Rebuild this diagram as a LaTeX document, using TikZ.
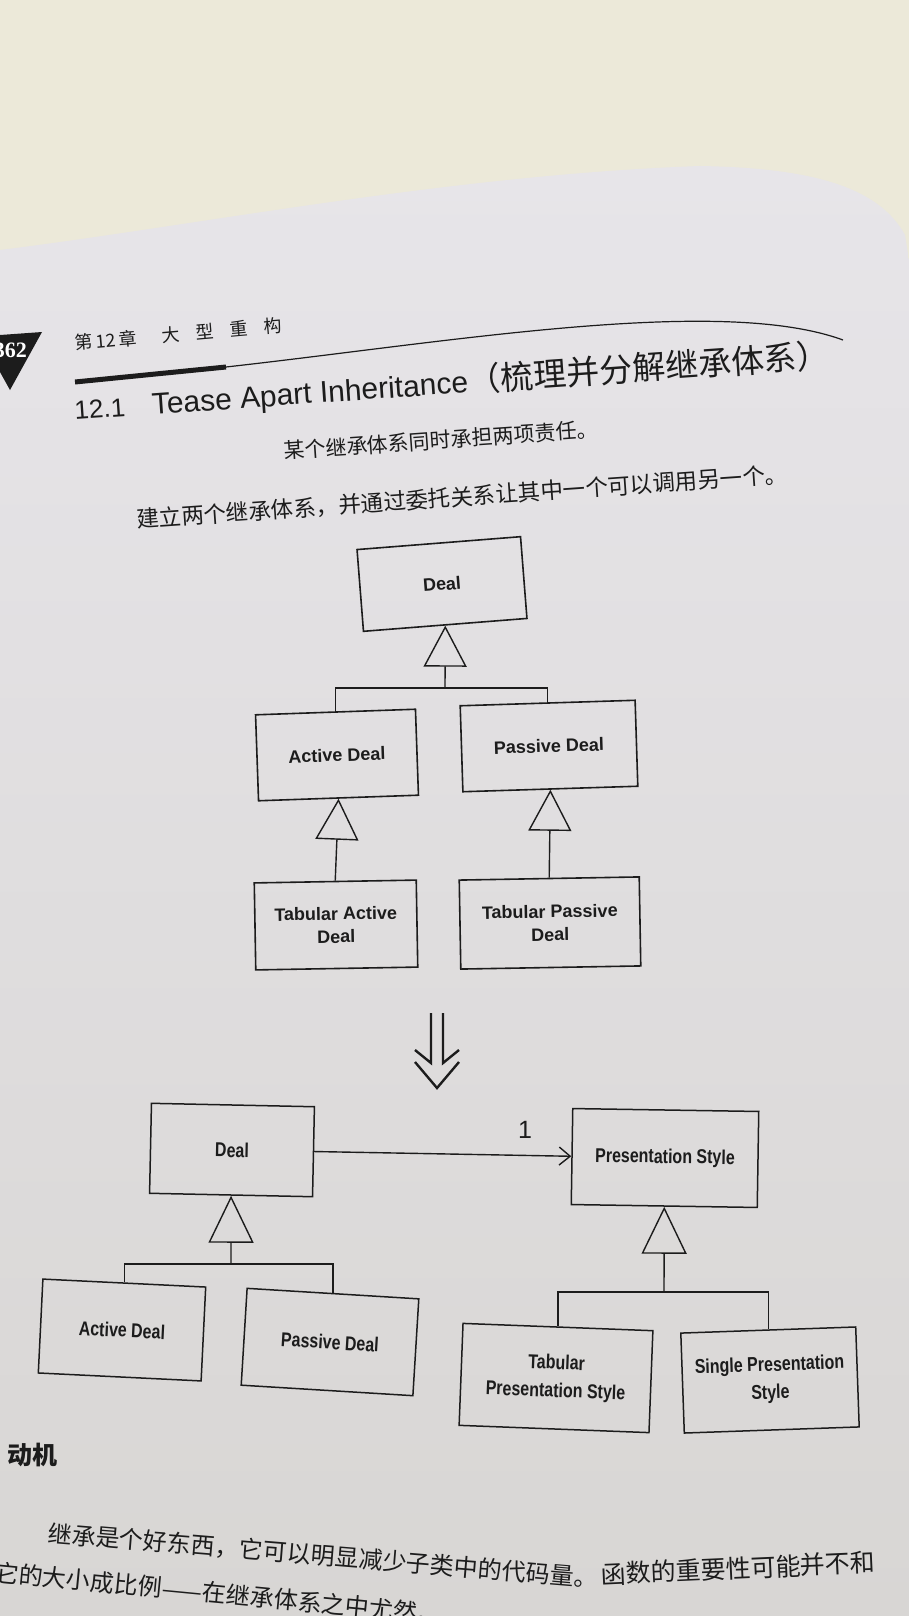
\documentclass[tikz,border=0pt]{standalone}
\usepackage{fontspec}
\setmainfont{Liberation Sans}
\newfontfamily\cjk{Noto Sans CJK SC}
\newfontfamily\narrowsans[FakeStretch=0.8]{Liberation Sans}
\newfontfamily\tabserif{Liberation Serif}
\usetikzlibrary{positioning,arrows.meta}
\definecolor{desk}{HTML}{ECE9D9}
\definecolor{pagetop}{HTML}{E7E5E9}
\definecolor{pagebot}{HTML}{D8D6D4}
\definecolor{ink}{HTML}{1C1C1C}

\begin{document}
\begin{tikzpicture}[
    x=1pt, y=-1pt,
    cls/.style={draw=ink, line width=1.6pt, align=center, inner sep=0pt, text=ink,
        font=\bfseries\fontsize{18}{23}\selectfont},
    clsb/.style={cls, line width=1.5pt, font=\narrowsans\bfseries\fontsize{20}{28}\selectfont},
    gen/.style={draw=ink, line width=1.4pt, -{Triangle[open, length=41pt, width=43pt]}},
    genb/.style={draw=ink, line width=1.4pt, -{Triangle[open, length=47pt, width=45pt]}},
    tree/.style={draw=ink, line width=1.4pt},
    assoc/.style={draw=ink, line width=1.4pt, -{Straight Barb[length=11pt, width=18pt]}},
    txt/.style={inner sep=0pt, anchor=base west, text=ink}
]
\useasboundingbox (0,0) rectangle (909,1616);

% desk and page
\fill[desk] (0,0) rectangle (909,1616);
\shade[top color=pagetop, bottom color=pagebot] (0,250) .. controls (200,225) and (450,175) .. (700,166)
    .. controls (820,168) and (880,190) .. (905,235) -- (909,260) -- (909,1616) -- (0,1616) -- cycle;

% running head
\fill[ink] (0,335) -- (42,332) -- (10,390) -- (0,372) -- cycle;
\node[txt, anchor=base east, text=white, font=\tabserif\bfseries\fontsize{22}{22}\selectfont] (pageno) at (27,357) {362};
\node[txt, rotate=5, font=\cjk\fontsize{18}{18}\selectfont] (chap) at (75,350)
    {第\,12\,章\hspace{26pt}大\hspace{16pt}型\hspace{16pt}重\hspace{16pt}构};
\draw[ink, line width=5pt] (75,382) -- (226,367);
\draw[ink, line width=1.2pt] (226,367) .. controls (450,342) and (720,295) .. (843,340);

% title and captions
\node[txt, rotate=4, font=\fontsize{30}{30}\selectfont] (title) at (75,420)
    {{\fontsize{26}{26}\selectfont 12.1}\hspace{27pt}Tease Apart Inheritance{\cjk\fontsize{33}{33}\selectfont （梳理并分解继承体系）}};
\node[txt, rotate=4, font=\cjk\fontsize{21}{21}\selectfont] (before) at (284,459) {某个继承体系同时承担两项责任。};
\node[txt, rotate=4, font=\cjk\fontsize{22.5}{22.5}\selectfont] (after) at (137,528) {建立两个继承体系，并通过委托关系让其中一个可以调用另一个。};

% before: one hierarchy
\node[cls, minimum width=164pt, minimum height=82pt, rotate=4.5] (deal1) at (442,584) {Deal};
\node[cls, minimum width=160pt, minimum height=86pt, rotate=2] (act1) at (337,755) {Active Deal};
\node[cls, minimum width=175pt, minimum height=86pt, rotate=1.8] (pas1) at (549,746) {Passive Deal};
\node[cls, minimum width=162pt, minimum height=87pt, rotate=1] (tact1) at (336,925) {Tabular Active\\Deal};
\node[cls, minimum width=180pt, minimum height=89pt, rotate=1] (tpas1) at (550,923) {Tabular Passive\\Deal};

\coordinate (s1) at (445,688);
\draw[gen] (s1) -- (deal1.south);
\draw[tree] (act1.north) |- (s1) -| (pas1.north);
\draw[gen] (tact1.north) -- (act1.south);
\draw[gen] (tpas1.north) -- (pas1.south);

% refactoring arrow
\coordinate (dtip) at (437,1088);
\draw[ink, line width=2.4pt] (431,1013) -- (431,1063) -- (415,1050);
\draw[ink, line width=2.4pt] (443,1013) -- (443,1063) -- (459,1050);
\draw[ink, line width=2.4pt] (415,1062) -- (dtip) -- (459,1062);

% after: two hierarchies
\node[clsb, minimum width=163pt, minimum height=90pt, rotate=-1.2] (deal2) at (232,1150) {Deal};
\node[clsb, minimum width=163pt, minimum height=94pt, rotate=-2.8] (act2) at (122,1330) {Active Deal};
\node[clsb, minimum width=172pt, minimum height=97pt, rotate=-3.5] (pas2) at (330,1342) {Passive Deal};
\node[clsb, minimum width=186pt, minimum height=96pt, rotate=-0.9] (ps) at (665,1158) {Presentation Style};
\node[clsb, minimum width=190pt, minimum height=102pt, rotate=-2.2] (tps) at (556,1378) {Tabular\\Presentation Style};
\node[clsb, minimum width=175pt, minimum height=100pt, rotate=2] (sps) at (770,1380) {Single Presentation\\Style};

\draw[assoc] (deal2) -- node[pos=0.82, above=16pt, inner sep=0pt, text=ink, font=\fontsize{25}{25}\selectfont] (mult) {1} (ps);

\coordinate (s2) at (231,1264);
\draw[genb] (s2) -- (deal2.south);
\draw[tree] (act2.north) |- (s2) -| (pas2.north);

\coordinate (s3) at (664,1292);
\draw[genb] (s3) -- (ps.south);
\draw[tree] (tps.north) |- (s3) -| (sps.north);

% body text
\node[txt, font=\cjk\bfseries\fontsize{25}{25}\selectfont] (motive) at (7,1464) {动机};
\node[txt, rotate=-4.7, font=\cjk\fontsize{24}{24}\selectfont] (para1a) at (47,1542) {继承是个好东西，它可以明显减少子类中的代码量。};
\node[txt, rotate=2.6, font=\cjk\fontsize{25}{25}\selectfont] (para1b) at (601,1584) {函数的重要性可能并不和};
\node[txt, rotate=-5.5, font=\cjk\fontsize{24}{24}\selectfont] (para2) at (-6,1581) {它的大小成比例——在继承体系之中尤然。};
\end{tikzpicture}
\end{document}
